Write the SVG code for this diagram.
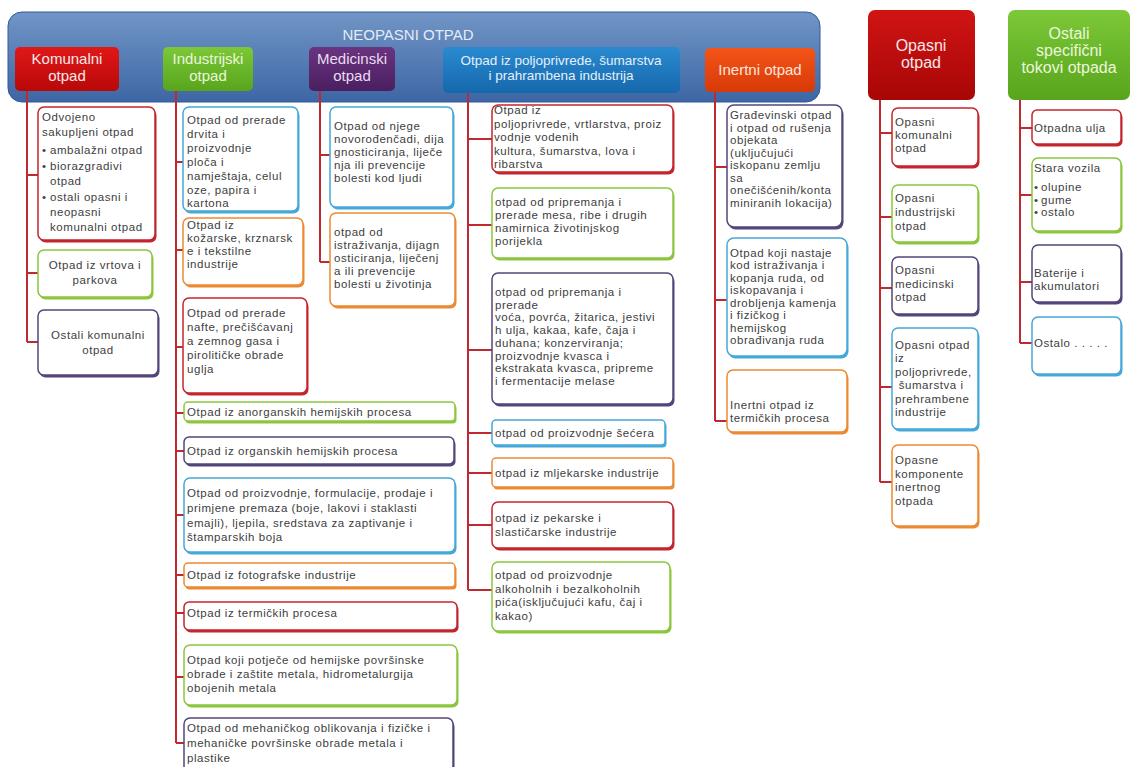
<svg xmlns="http://www.w3.org/2000/svg" width="1135" height="767" viewBox="0 0 1135 767">
<defs>
<linearGradient id="gBanner" x1="0" y1="0" x2="0" y2="1"><stop offset="0" stop-color="#7196c6"/><stop offset="1" stop-color="#3d66a4"/></linearGradient>
<linearGradient id="gRed" x1="0" y1="0" x2="0" y2="1"><stop offset="0" stop-color="#e01818"/><stop offset="1" stop-color="#b80808"/></linearGradient>
<linearGradient id="gDRed" x1="0" y1="0" x2="0" y2="1"><stop offset="0" stop-color="#d01414"/><stop offset="1" stop-color="#a80606"/></linearGradient>
<linearGradient id="gGreen" x1="0" y1="0" x2="0" y2="1"><stop offset="0" stop-color="#7cc838"/><stop offset="1" stop-color="#58a41c"/></linearGradient>
<linearGradient id="gPurple" x1="0" y1="0" x2="0" y2="1"><stop offset="0" stop-color="#6a3480"/><stop offset="1" stop-color="#4a1e60"/></linearGradient>
<linearGradient id="gBlue" x1="0" y1="0" x2="0" y2="1"><stop offset="0" stop-color="#2a8ad0"/><stop offset="1" stop-color="#1668ac"/></linearGradient>
<linearGradient id="gOrange" x1="0" y1="0" x2="0" y2="1"><stop offset="0" stop-color="#f45418"/><stop offset="1" stop-color="#d83a08"/></linearGradient>
</defs>
<style>
.t{font-family:"Liberation Sans",Arial,sans-serif;font-size:11.5px;fill:#404040;letter-spacing:0.55px}
.c{text-anchor:middle}
.h{font-family:"Liberation Sans",Arial,sans-serif;font-size:15px;fill:#f6e8e8;text-anchor:middle}
.hb{font-size:16px}
.box{fill:#ffffff;stroke-width:1.5}
.r{stroke:#c4262e}.rs{fill:#c4262e}
.g{stroke:#8cc63e}.gs{fill:#8cc63e}
.p{stroke:#54457a}.ps{fill:#54457a}
.b{stroke:#44a8d8}.bs{fill:#44a8d8}
.o{stroke:#ec8a34}.os{fill:#ec8a34}
.con{fill:none;stroke:#be2a30;stroke-width:2}
.hdr{stroke:none}
</style>

<g id="neopasni-otpad">
<rect x="8" y="12" width="812" height="90" rx="14" fill="url(#gBanner)" stroke="#34589a" stroke-width="1"/>
<text class="h" x="408" y="40" style="fill:#e4ebf4">NEOPASNI OTPAD</text>
</g>

<g id="connectors">
<path class="con" d="M27 90V342M27 175H38M27 273H38M27 342H38"/>
<path class="con" d="M176 90V743M176 162H183M176 250H183M176 347H183M176 413H184M176 451H184M176 515H184M176 575H184M176 613H184M176 677H184M176 743H184"/>
<path class="con" d="M320 90V262M320 155H330M320 262H330"/>
<path class="con" d="M468 93V590M468 139H492M468 225H492M468 350H492M468 433H492M468 473H492M468 525H492M468 590H492"/>
<path class="con" d="M715 92V421M715 167H727M715 300H727M715 421H727"/>
<path class="con" d="M880 100V482M880 133H892M880 217H892M880 288H892M880 387H892M880 482H892"/>
<path class="con" d="M1020 100V343M1020 128H1032M1020 195H1032M1020 282H1032M1020 343H1032"/>
</g>

<g id="h-komunalni"><rect class="hdr" x="15" y="47" width="104" height="44" rx="5" fill="url(#gRed)"/><text class="h"><tspan x="67" y="64">Komunalni</tspan><tspan x="67" y="81">otpad</tspan></text></g>
<g id="h-industrijski"><rect class="hdr" x="163" y="47" width="90" height="44" rx="5" fill="url(#gGreen)"/><text class="h" style="fill:#eaf6dc"><tspan x="208" y="64">Industrijski</tspan><tspan x="208" y="81">otpad</tspan></text></g>
<g id="h-medicinski"><rect class="hdr" x="309" y="47" width="86" height="44" rx="5" fill="url(#gPurple)"/><text class="h" style="fill:#eadcf0"><tspan x="352" y="64">Medicinski</tspan><tspan x="352" y="81">otpad</tspan></text></g>
<g id="h-poljoprivreda"><rect class="hdr" x="443" y="47" width="237" height="46" rx="5" fill="url(#gBlue)"/><text class="h" style="font-size:13.5px;fill:#e4f0fa"><tspan x="561" y="65">Otpad iz poljoprivrede, šumarstva</tspan><tspan x="561" y="80">i prahrambena industrija</tspan></text></g>
<g id="h-inertni"><rect class="hdr" x="705" y="48" width="110" height="44" rx="5" fill="url(#gOrange)"/><text class="h" x="760" y="75" style="fill:#fbe6dc">Inertni otpad</text></g>
<g id="h-opasni"><rect class="hdr" x="868" y="10" width="107" height="90" rx="7" fill="url(#gDRed)"/><text class="h hb"><tspan x="921" y="51">Opasni</tspan><tspan x="921" y="68">otpad</tspan></text></g>
<g id="h-ostali"><rect class="hdr" x="1008" y="10" width="122" height="90" rx="7" fill="url(#gGreen)"/><text class="h hb" style="fill:#eaf6dc"><tspan x="1069" y="39">Ostali</tspan><tspan x="1069" y="56">specifični</tspan><tspan x="1069" y="73">tokovi otpada</tspan></text></g>

<g id="k1"><rect class="rs" x="39.5" y="109.5" width="117" height="133" rx="6"/><rect class="box r" x="38" y="107" width="117" height="133" rx="6"/>
<text class="t"><tspan x="42" y="121">Odvojeno</tspan><tspan x="42" y="136">sakupljeni otpad</tspan><tspan x="42" y="154">•</tspan><tspan x="50" y="154">ambalažni otpad</tspan><tspan x="42" y="170">•</tspan><tspan x="50" y="170">biorazgradivi</tspan><tspan x="50" y="185">otpad</tspan><tspan x="42" y="201">•</tspan><tspan x="50" y="201">ostali opasni i</tspan><tspan x="50" y="216">neopasni</tspan><tspan x="50" y="231">komunalni otpad</tspan></text></g>
<g id="k2"><rect class="gs" x="39.5" y="252.5" width="114" height="47" rx="6"/><rect class="box g" x="38" y="250" width="114" height="47" rx="6"/>
<text class="t c"><tspan x="95" y="269">Otpad iz vrtova i</tspan><tspan x="95" y="284">parkova</tspan></text></g>
<g id="k3"><rect class="ps" x="39.5" y="312.5" width="120" height="65" rx="6"/><rect class="box p" x="38" y="310" width="120" height="65" rx="6"/>
<text class="t c"><tspan x="98" y="339">Ostali komunalni</tspan><tspan x="98" y="354">otpad</tspan></text></g>

<g id="i1"><rect class="bs" x="184.5" y="109.5" width="115" height="104" rx="6"/><rect class="box b" x="183" y="107" width="115" height="104" rx="6"/>
<text class="t"><tspan x="187" y="124">Otpad od prerade</tspan><tspan x="187" y="138">drvita i</tspan><tspan x="187" y="152">proizvodnje</tspan><tspan x="187" y="166">ploča i</tspan><tspan x="187" y="180">namještaja, celul</tspan><tspan x="187" y="194">oze, papira i</tspan><tspan x="187" y="207">kartona</tspan></text></g>
<g id="i2"><rect class="os" x="184.5" y="220.5" width="120" height="67" rx="6"/><rect class="box o" x="183" y="218" width="120" height="67" rx="6"/>
<text class="t"><tspan x="187" y="229">Otpad iz</tspan><tspan x="187" y="242">kožarske, krznarsk</tspan><tspan x="187" y="255">e i tekstilne</tspan><tspan x="187" y="268">industrije</tspan></text></g>
<g id="i3"><rect class="rs" x="184.5" y="300.5" width="124" height="95" rx="6"/><rect class="box r" x="183" y="298" width="124" height="95" rx="6"/>
<text class="t"><tspan x="187" y="317">Otpad od prerade</tspan><tspan x="187" y="331">nafte, prečišćavanj</tspan><tspan x="187" y="345">a zemnog gasa i</tspan><tspan x="187" y="359">pirolitičke obrade</tspan><tspan x="187" y="373">uglja</tspan></text></g>
<g id="i4"><rect class="gs" x="185.5" y="404.5" width="271" height="19" rx="4"/><rect class="box g" x="184" y="402" width="271" height="19" rx="4"/>
<text class="t" x="187" y="416">Otpad iz  anorganskih hemijskih procesa</text></g>
<g id="i5"><rect class="ps" x="185.5" y="439.5" width="270" height="27" rx="5"/><rect class="box p" x="184" y="437" width="270" height="27" rx="5"/>
<text class="t" x="187" y="455">Otpad iz organskih hemijskih procesa</text></g>
<g id="i6"><rect class="bs" x="185.5" y="480.5" width="271" height="74" rx="6"/><rect class="box b" x="184" y="478" width="271" height="74" rx="6"/>
<text class="t"><tspan x="187" y="497">Otpad od proizvodnje, formulacije, prodaje i</tspan><tspan x="187" y="512">primjene premaza (boje, lakovi i staklasti</tspan><tspan x="187" y="527">emajli), ljepila, sredstava za zaptivanje i</tspan><tspan x="187" y="541">štamparskih boja</tspan></text></g>
<g id="i7"><rect class="os" x="185.5" y="565.5" width="271" height="24" rx="4"/><rect class="box o" x="184" y="563" width="271" height="24" rx="4"/>
<text class="t" x="187" y="579">Otpad iz fotografske industrije</text></g>
<g id="i8"><rect class="rs" x="185.5" y="604.5" width="273" height="28" rx="5"/><rect class="box r" x="184" y="602" width="273" height="28" rx="5"/>
<text class="t" x="187" y="617">Otpad iz termičkih procesa</text></g>
<g id="i9"><rect class="gs" x="185.5" y="647.5" width="273" height="60" rx="6"/><rect class="box g" x="184" y="645" width="273" height="60" rx="6"/>
<text class="t"><tspan x="187" y="664">Otpad koji potječe od hemijske površinske</tspan><tspan x="187" y="678">obrade i zaštite metala, hidrometalurgija</tspan><tspan x="187" y="692">obojenih metala</tspan></text></g>
<g id="i10"><rect class="ps" x="185.5" y="720.5" width="269" height="54" rx="6"/><rect class="box p" x="184" y="718" width="269" height="54" rx="6"/>
<text class="t"><tspan x="187" y="732">Otpad od mehaničkog oblikovanja i fizičke i</tspan><tspan x="187" y="747">mehaničke površinske obrade metala i</tspan><tspan x="187" y="762">plastike</tspan></text></g>

<g id="m1"><rect class="bs" x="331.5" y="109.5" width="123" height="100" rx="6"/><rect class="box b" x="330" y="107" width="123" height="100" rx="6"/>
<text class="t"><tspan x="334" y="130">Otpad od njege</tspan><tspan x="334" y="143">novorođenčadi, dija</tspan><tspan x="334" y="156">gnosticiranja, liječe</tspan><tspan x="334" y="169">nja ili prevencije</tspan><tspan x="334" y="182">bolesti kod ljudi</tspan></text></g>
<g id="m2"><rect class="os" x="331.5" y="215.5" width="125" height="93" rx="6"/><rect class="box o" x="330" y="213" width="125" height="93" rx="6"/>
<text class="t"><tspan x="334" y="236">otpad od</tspan><tspan x="334" y="249">istraživanja, dijagn</tspan><tspan x="334" y="262">osticiranja, liječenj</tspan><tspan x="334" y="275">a ili prevencije</tspan><tspan x="334" y="288">bolesti u životinja</tspan></text></g>

<g id="p1"><rect class="rs" x="493.5" y="107.5" width="181" height="67" rx="6"/><rect class="box r" x="492" y="105" width="181" height="67" rx="6"/>
<text class="t"><tspan x="494" y="114">Otpad iz</tspan><tspan x="494" y="127.5">poljoprivrede, vrtlarstva, proiz</tspan><tspan x="494" y="141">vodnje vodenih</tspan><tspan x="494" y="154.5">kultura, šumarstva, lova i</tspan><tspan x="494" y="168">ribarstva</tspan></text></g>
<g id="p2"><rect class="gs" x="493.5" y="190.5" width="181" height="70" rx="6"/><rect class="box g" x="492" y="188" width="181" height="70" rx="6"/>
<text class="t"><tspan x="495" y="206">otpad od pripremanja i</tspan><tspan x="495" y="219">prerade mesa, ribe i drugih</tspan><tspan x="495" y="232">namirnica životinjskog</tspan><tspan x="495" y="245">porijekla</tspan></text></g>
<g id="p3"><rect class="ps" x="493.5" y="275.5" width="181" height="131" rx="6"/><rect class="box p" x="492" y="273" width="181" height="131" rx="6"/>
<text class="t"><tspan x="495" y="296">otpad od pripremanja i</tspan><tspan x="495" y="308.7">prerade</tspan><tspan x="495" y="321.4">voća, povrća, žitarica, jestivi</tspan><tspan x="495" y="334.1">h ulja, kakaa, kafe, čaja i</tspan><tspan x="495" y="346.8">duhana; konzerviranja;</tspan><tspan x="495" y="359.5">proizvodnje kvasca i</tspan><tspan x="495" y="372.2">ekstrakata kvasca, pripreme</tspan><tspan x="495" y="385">i fermentacije melase</tspan></text></g>
<g id="p4"><rect class="bs" x="493.5" y="422.5" width="173" height="25" rx="4"/><rect class="box b" x="492" y="420" width="173" height="25" rx="4"/>
<text class="t" x="495" y="437">otpad od proizvodnje šećera</text></g>
<g id="p5"><rect class="os" x="493.5" y="460.5" width="181" height="29" rx="4"/><rect class="box o" x="492" y="458" width="181" height="29" rx="4"/>
<text class="t" x="495" y="477">otpad iz mljekarske industrije</text></g>
<g id="p6"><rect class="rs" x="493.5" y="504.5" width="181" height="46" rx="6"/><rect class="box r" x="492" y="502" width="181" height="46" rx="6"/>
<text class="t"><tspan x="495" y="522">otpad iz pekarske i</tspan><tspan x="495" y="536">slastičarske industrije</tspan></text></g>
<g id="p7"><rect class="gs" x="493.5" y="564.5" width="178" height="69" rx="6"/><rect class="box g" x="492" y="562" width="178" height="69" rx="6"/>
<text class="t"><tspan x="495" y="579">otpad od proizvodnje</tspan><tspan x="495" y="593">alkoholnih i bezalkoholnih</tspan><tspan x="495" y="606">pića(isključujući kafu, čaj i</tspan><tspan x="495" y="620">kakao)</tspan></text></g>

<g id="n1"><rect class="ps" x="728.5" y="107.5" width="115" height="122" rx="7"/><rect class="box p" x="727" y="105" width="115" height="122" rx="7"/>
<text class="t"><tspan x="730" y="119">Građevinski otpad</tspan><tspan x="730" y="131.5">i otpad od rušenja</tspan><tspan x="730" y="144">objekata</tspan><tspan x="730" y="156.5">(uključujući</tspan><tspan x="730" y="169">iskopanu zemlju</tspan><tspan x="730" y="181.5">sa</tspan><tspan x="730" y="194">onečišćenih/konta</tspan><tspan x="730" y="206.5">miniranih lokacija)</tspan></text></g>
<g id="n2"><rect class="bs" x="728.5" y="240.5" width="120" height="118" rx="7"/><rect class="box b" x="727" y="238" width="120" height="118" rx="7"/>
<text class="t"><tspan x="730" y="256.5">Otpad koji nastaje</tspan><tspan x="730" y="269">kod istraživanja i</tspan><tspan x="730" y="281.5">kopanja ruda,  od</tspan><tspan x="730" y="294">iskopavanja i</tspan><tspan x="730" y="306.5">drobljenja kamenja</tspan><tspan x="730" y="319">i fizičkog i</tspan><tspan x="730" y="331.5">hemijskog</tspan><tspan x="730" y="344">obrađivanja ruda</tspan></text></g>
<g id="n3"><rect class="os" x="728.5" y="372.5" width="120" height="62" rx="6"/><rect class="box o" x="727" y="370" width="120" height="62" rx="6"/>
<text class="t"><tspan x="730" y="409">Inertni otpad iz</tspan><tspan x="730" y="422">termičkih procesa</tspan></text></g>

<g id="o1"><rect class="rs" x="893.5" y="110.5" width="86" height="58" rx="6"/><rect class="box r" x="892" y="108" width="86" height="58" rx="6"/>
<text class="t"><tspan x="895" y="126">Opasni</tspan><tspan x="895" y="139">komunalni</tspan><tspan x="895" y="152">otpad</tspan></text></g>
<g id="o2"><rect class="gs" x="893.5" y="187.5" width="86" height="57" rx="6"/><rect class="box g" x="892" y="185" width="86" height="57" rx="6"/>
<text class="t"><tspan x="895" y="202">Opasni</tspan><tspan x="895" y="216">industrijski</tspan><tspan x="895" y="230">otpad</tspan></text></g>
<g id="o3"><rect class="ps" x="893.5" y="259.5" width="86" height="57" rx="6"/><rect class="box p" x="892" y="257" width="86" height="57" rx="6"/>
<text class="t"><tspan x="895" y="274">Opasni</tspan><tspan x="895" y="287.5">medicinski</tspan><tspan x="895" y="301">otpad</tspan></text></g>
<g id="o4"><rect class="bs" x="893.5" y="330.5" width="86" height="101" rx="6"/><rect class="box b" x="892" y="328" width="86" height="101" rx="6"/>
<text class="t"><tspan x="895" y="349">Opasni otpad</tspan><tspan x="895" y="362.4">iz</tspan><tspan x="895" y="375.8">poljoprivrede,</tspan><tspan x="895" y="389.2"> šumarstva i</tspan><tspan x="895" y="402.6">prehrambene</tspan><tspan x="895" y="416">industrije</tspan></text></g>
<g id="o5"><rect class="os" x="893.5" y="447.5" width="86" height="81" rx="6"/><rect class="box o" x="892" y="445" width="86" height="81" rx="6"/>
<text class="t"><tspan x="895" y="464">Opasne</tspan><tspan x="895" y="477.5">komponente</tspan><tspan x="895" y="491">inertnog</tspan><tspan x="895" y="504.5">otpada</tspan></text></g>

<g id="s1"><rect class="rs" x="1033.5" y="112.5" width="89" height="34" rx="5"/><rect class="box r" x="1032" y="110" width="89" height="34" rx="5"/>
<text class="t" x="1034" y="132">Otpadna ulja</text></g>
<g id="s2"><rect class="gs" x="1033.5" y="160.5" width="89" height="73" rx="6"/><rect class="box g" x="1032" y="158" width="89" height="73" rx="6"/>
<text class="t"><tspan x="1034" y="172">Stara vozila</tspan><tspan x="1034" y="191">•</tspan><tspan x="1041" y="191">olupine</tspan><tspan x="1034" y="203.5">•</tspan><tspan x="1041" y="203.5">gume</tspan><tspan x="1034" y="216">•</tspan><tspan x="1041" y="216">ostalo</tspan></text></g>
<g id="s3"><rect class="ps" x="1033.5" y="247.5" width="89" height="57" rx="6"/><rect class="box p" x="1032" y="245" width="89" height="57" rx="6"/>
<text class="t"><tspan x="1034" y="277">Baterije i</tspan><tspan x="1034" y="290">akumulatori</tspan></text></g>
<g id="s4"><rect class="bs" x="1033.5" y="319.5" width="89" height="57" rx="6"/><rect class="box b" x="1032" y="317" width="89" height="57" rx="6"/>
<text class="t" x="1034" y="347">Ostalo . . . . .</text></g>
</svg>
